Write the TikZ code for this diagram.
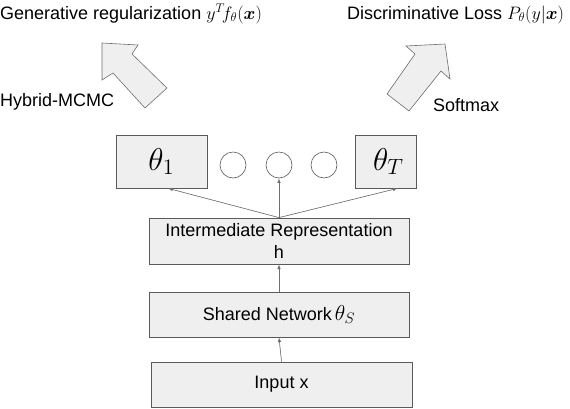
\RequirePackage{fix-cm}
\documentclass[tikz,border=0pt]{standalone}
\usepackage{graphicx}
\usepackage{bm}
\usepackage{fontspec}
\setmainfont{Liberation Sans}
\usetikzlibrary{shapes,arrows,positioning}

\begin{document}
\begin{tikzpicture}[x=1pt, y=-1pt, every node/.style={font=\fontsize{18}{22}\selectfont},
        layerbox/.style={draw=boxgray, fill=boxfill, line width=0.8pt, inner sep=2pt, align=center},
        dotnode/.style={circle, draw=boxgray, fill=white, line width=0.6pt, minimum size=26pt, inner sep=0pt},
        link/.style={-latex, line width=0.6pt, draw=linkgray, fill=linkgray},
        bigarrow/.style={draw=linkgray, fill=boxfill, line width=0.6pt, line join=miter}]
        \definecolor{boxfill}{RGB}{239,239,239}
        \definecolor{boxgray}{RGB}{90,90,90}
        \definecolor{linkgray}{RGB}{110,110,110}

        \useasboundingbox (0,0) rectangle (570,408);

        % Task heads
        \node[layerbox, minimum width=91pt, minimum height=53pt] (head1) at (161.5,161.5) {\scalebox{1.75}{$\theta_1$}};
        \node[dotnode] (dot1) at (233,165) {};
        \node[dotnode] (dot2) at (279,165) {};
        \node[dotnode] (dot3) at (324,165) {};
        \node[layerbox, minimum width=61pt, minimum height=53pt, inner sep=0pt] (headT) at (385.5,161.5) {\hspace*{6pt}\scalebox{1.75}{$\theta_T$}};

        % Layers
        \node[layerbox, minimum width=260pt, minimum height=46pt, inner sep=1pt] (inter) at (279,241) {Intermediate Representation\\h};
        \node[layerbox, minimum width=260pt, minimum height=45pt] (shared) at (279,314.5) {Shared Network\,\scalebox{1.2}{$\theta_S$}};
        \node[layerbox, minimum width=261pt, minimum height=45pt] (input) at (281.5,384.5) {Input x};

        % Arrows
        \draw[link] (input.north) -- (shared.south);
        \draw[link] (shared.north) -- (inter.south);
        \draw[link] (inter.north) -- (head1.-76);
        \draw[link] (inter.north) -- (dot2.south);
        \draw[link] (inter.north) -- (headT.-66);

        % Block arrows
        \draw[bigarrow] (102,43) -- (102,80) -- (113,73) -- (145,108) -- (167,88) -- (132,54) -- (138,45) -- cycle;
        \draw[bigarrow] (445,44) -- (406,46) -- (415,54) -- (387,94) -- (409,111) -- (441,71) -- (450,79) -- cycle;

        % Labels
        \node[anchor=base west, inner sep=0pt] (genlabel) at (0,19) {Generative regularization $y^T\! f_\theta(\bm{x})$};
        \node[anchor=base west, inner sep=0pt] (dislabel) at (347,19) {Discriminative Loss $P_\theta(y|\bm{x})$};
        \node[anchor=base west, inner sep=0pt] (hmclabel) at (0,106) {Hybrid-MCMC};
        \node[anchor=base west, inner sep=0pt] (smlabel) at (433,111) {Softmax};
    \end{tikzpicture}
\end{document}
